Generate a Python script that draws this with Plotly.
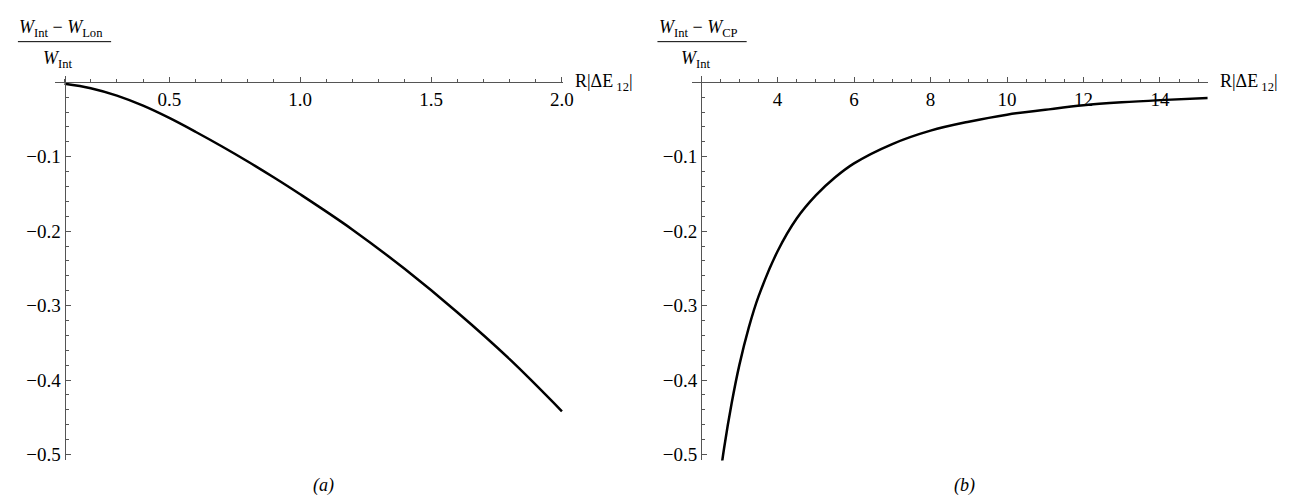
import plotly.graph_objects as go

W, H = 1298, 497

# panel (a): (W_Int - W_Lon)/W_Int against R|dE12|
lon_x = [0.1, 0.2, 0.3, 0.4, 0.5, 0.6, 0.7, 0.8, 0.9, 1.0, 1.2, 1.4, 1.6, 1.8, 2.0]
lon_y = [-0.002, -0.008, -0.018, -0.0315, -0.048, -0.0665, -0.086, -0.1065, -0.128,
         -0.1505, -0.198, -0.251, -0.309, -0.372, -0.442]

# panel (b): (W_Int - W_CP)/W_Int against R|dE12|
cp_x = [2.47, 2.6, 2.8, 3.0, 3.25, 3.5, 4.0, 4.5, 5.0, 5.5, 6.0, 7.0, 8.0,
        9.0, 10.0, 11.0, 12.0, 13.0, 14.0, 15.25]
cp_y = [-0.540, -0.492, -0.431, -0.380, -0.329, -0.288, -0.227, -0.183, -0.152,
        -0.128, -0.109, -0.083, -0.065, -0.053, -0.0435, -0.037, -0.031, -0.027,
        -0.024, -0.021]

y_ticks = [-0.5, -0.4, -0.3, -0.2, -0.1]
y_text = ["\u22120.5", "\u22120.4", "\u22120.3", "\u22120.2", "\u22120.1"]
a_ticks = [0.5, 1.0, 1.5, 2.0]
b_ticks = [4, 6, 8, 10, 12, 14]

FONT = "Liberation Serif"
AX = "#555555"

# pixel boxes of the two panels and their ranges
y_rng = [-0.508, 0.008]
y_px = [457, 69]
a_rng, a_px, a_origin = [0.062, 2.005], [47, 560], 0.1
b_rng, b_px, b_origin = [1.766, 15.25], [690, 1210], 2.0


def fx(px):
    return px / W


def fy(py):
    return 1 - py / H


def xpix(v, rng, px):
    return px[0] + (v - rng[0]) / (rng[1] - rng[0]) * (px[1] - px[0])


def ypix(v):
    return y_px[0] + (v - y_rng[0]) / (y_rng[1] - y_rng[0]) * (y_px[1] - y_px[0])


fig = go.Figure()
fig.add_trace(go.Scatter(x=lon_x, y=lon_y, mode="lines", line=dict(color="black", width=2.5, shape="spline"),
                         xaxis="x", yaxis="y", showlegend=False))
fig.add_trace(go.Scatter(x=cp_x, y=cp_y, mode="lines", line=dict(color="black", width=2.5, shape="spline"),
                         xaxis="x2", yaxis="y2", showlegend=False))

zero_pos = fy(ypix(0))
tick_font = dict(family=FONT, size=19, color="black")


def xaxis_cfg(rng, px, ticks, fmt, minor_step):
    return dict(domain=[fx(px[0]), fx(px[1])], range=rng, anchor="free", position=zero_pos,
                side="bottom", showline=True, linecolor=AX, linewidth=1, showgrid=False, zeroline=False,
                tickmode="array", tickvals=ticks, ticktext=[fmt.format(t) for t in ticks],
                ticks="inside", ticklen=5, tickcolor=AX, tickfont=tick_font,
                minor=dict(ticks="inside", ticklen=3, tickcolor=AX, tick0=0, dtick=minor_step))


def yaxis_cfg(pos):
    return dict(domain=[fy(y_px[0]), fy(y_px[1])], range=y_rng, anchor="free", position=pos,
                side="left", showline=True, linecolor=AX, linewidth=1, showgrid=False, zeroline=False,
                tickmode="array", tickvals=y_ticks, ticktext=y_text,
                ticks="inside", ticklen=5, tickcolor=AX, tickfont=tick_font,
                minor=dict(ticks="inside", ticklen=3, tickcolor=AX, tick0=0, dtick=0.02))


fig.update_layout(
    width=W, height=H,
    margin=dict(l=0, r=0, t=0, b=0),
    paper_bgcolor="white", plot_bgcolor="white",
    font=dict(family=FONT, color="black"),
    xaxis=xaxis_cfg(a_rng, a_px, a_ticks, "{:.1f}", 0.1),
    yaxis=yaxis_cfg(fx(xpix(a_origin, a_rng, a_px))),
    xaxis2=xaxis_cfg(b_rng, b_px, b_ticks, "{:d}", 0.5),
    yaxis2=yaxis_cfg(fx(xpix(b_origin, b_rng, b_px))),
)

ann = []
shapes = []
# x axis labels at the end of each axis
for px in [a_px, b_px]:
    ann.append(dict(x=fx(px[1] + 10), y=zero_pos, xref="paper", yref="paper", xanchor="left",
                    yanchor="middle", showarrow=False, text="R|\u0394E<sub> 12</sub>|",
                    font=dict(family=FONT, size=18)))

# fraction-style y labels above each y axis
fracs = [(57, 10, 104, "Lon"), (700, 655, 745, "CP")]
for cx, x0, x1, sub in fracs:
    ann.append(dict(x=fx(cx - 4), y=fy(21), xref="paper", yref="paper", xanchor="center", yanchor="middle",
                    showarrow=False, text="<i>W</i><sub>Int</sub> \u2212 <i>W</i><sub>" + sub + "</sub>",
                    font=dict(family=FONT, size=18)))
    ann.append(dict(x=fx(cx - 7), y=fy(52), xref="paper", yref="paper", xanchor="center", yanchor="middle",
                    showarrow=False, text="<i>W</i><sub>Int</sub>", font=dict(family=FONT, size=18)))
    shapes.append(dict(type="line", xref="paper", yref="paper", x0=fx(x0), x1=fx(x1),
                       y0=fy(34), y1=fy(34), line=dict(color="black", width=1)))

# panel captions
for cx, lab in [(318, "(a)"), (965, "(b)")]:
    ann.append(dict(x=fx(cx), y=fy(482), xref="paper", yref="paper", xanchor="center", yanchor="middle",
                    showarrow=False, text="<i>" + lab + "</i>", font=dict(family=FONT, size=18)))

fig.update_layout(annotations=ann, shapes=shapes)
fig.write_html("out.html")
